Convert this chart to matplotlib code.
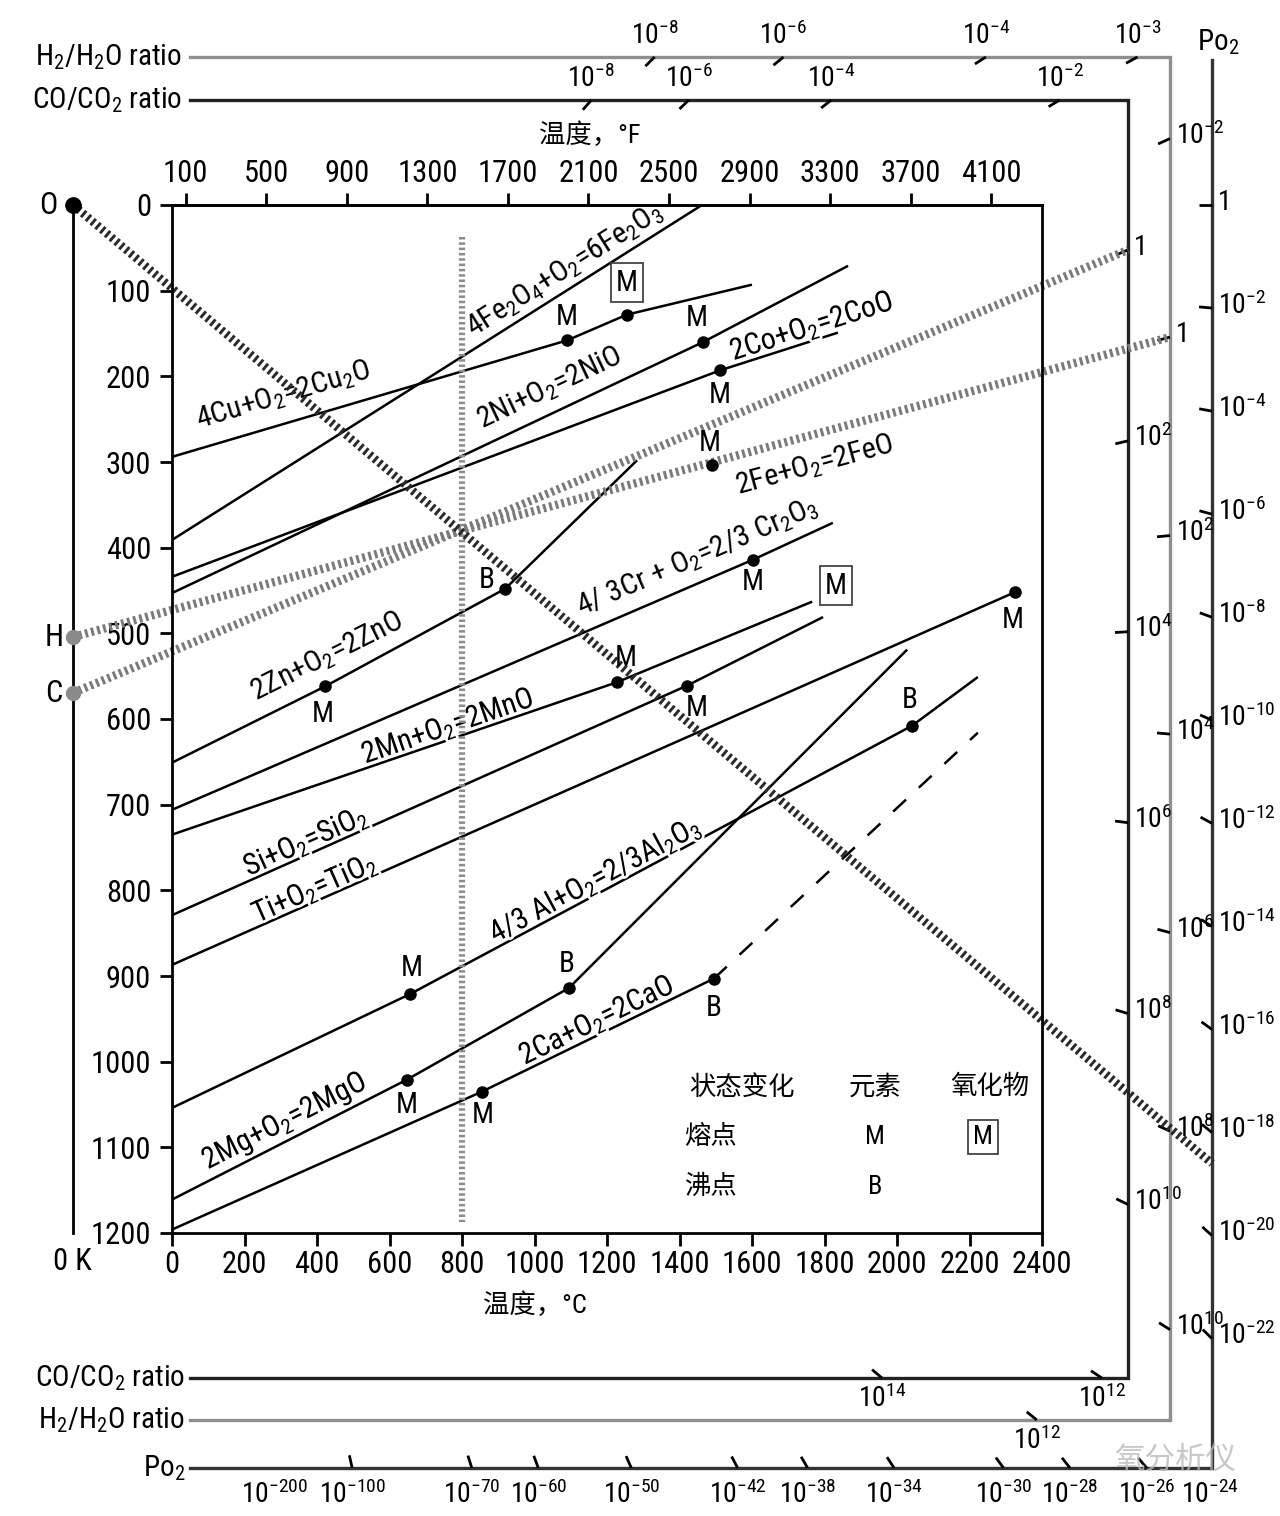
import numpy as np
import matplotlib.pyplot as plt
import matplotlib.patheffects as pe
from matplotlib import font_manager as fm

plt.switch_backend("Agg")

# 字体：优先窄体拉丁字，中文回退
_names = {f.name for f in fm.fontManager.ttflist}
LATIN, K = "Liberation Sans", 0.86
for _n in ["Roboto Condensed", "Liberation Sans Narrow", "Noto Sans Condensed"]:
    if _n in _names:
        LATIN, K = _n, 1.0
        break
plt.rcParams["font.family"] = [LATIN, "Noto Sans CJK SC", "DejaVu Sans"]
plt.rcParams["mathtext.fontset"] = "custom"
for _k in ("rm", "it", "bf", "sf"):
    plt.rcParams["mathtext." + _k] = LATIN
plt.rcParams["mathtext.default"] = "regular"

# ---------------- 数据：温度 °C，-ΔG (kJ) ----------------
cu2o_t = [0, 1090, 1255, 1600];      cu2o_g = [294, 158, 128, 93]
fe2o3_t = [0, 1462];                 fe2o3_g = [391, 0]
nio_t = [0, 1465, 1865];             nio_g = [453, 160, 71]
coo_t = [0, 1512, 1837];             coo_g = [434, 193, 149]
zno_t = [0, 422, 919, 1283];         zno_g = [651, 562, 448, 298]
cr_t = [0, 1603, 1823];              cr_g = [706, 414, 371]
mno_t = [0, 1228, 1766];             mno_g = [735, 557, 463]
sio2_t = [0, 1421, 1796];            sio2_g = [829, 561, 481]
tio2_t = [0, 2325];                  tio2_g = [887, 452]
al_t = [0, 657, 2041, 2223];         al_g = [1054, 921, 608, 551]
mgo_t = [0, 648, 1095, 2028];        mgo_g = [1161, 1021, 914, 519]
cao_t = [0, 855, 1495];              cao_g = [1196, 1035, 903]
cao_ext_t = [1495, 2223];            cao_ext_g = [903, 616]

# 元素熔点 M、沸点 B、氧化物熔点 [M]
melt_t = [1090, 1465, 1512, 1490, 422, 1603, 1228, 1421, 2325, 657, 648, 855]
melt_g = [158, 160, 193, 303, 562, 414, 557, 561, 452, 921, 1021, 1035]
boil_t = [919, 2041, 1095, 1495]
boil_g = [448, 608, 914, 903]
oxm_t = [1255, 1766]
oxm_g = [128, 463]

# 气体参考线 (0 K 截距, 斜率 kJ/K)
CO_V0, CO_B = 569.6, 0.1777
H2_V0, H2_B = 504.3, 0.1157
O_RAY_EXP = -18.6
R10 = 8.314e-3 * np.log(10)
T0K = -273.15

co_right_exp = [0, 2, 4, 6, 8, 10]
h2_right_exp = [-2, 0, 2, 4, 6, 8, 10]
po2_right_exp = [0, -2, -4, -6, -8, -10, -12, -14, -16, -18, -20, -22]
co_top_exp = [-8, -6, -4, -2]
h2_top_exp = [-8, -6, -4, -3]
co_bot_exp = [14, 12]
h2_bot_exp = [12]
po2_bot_exp = [-200, -100, -70, -60, -50, -42, -38, -34, -30, -28, -26, -24]

y_ticks = list(range(0, 1201, 100))
c_ticks = list(range(0, 2401, 200))
f_ticks = list(range(100, 4101, 400))


def px(x, y):
    """图像像素 -> 数据坐标"""
    return (x - 172) / 870 * 2400, (y - 205) / 1028 * 1200


def ray_v(tc, v0, b, k, e):
    return v0 - (tc - T0K) * (b + k * e)


fig = plt.figure(figsize=(12.8, 15.16), dpi=100)
ax = fig.add_axes([172 / 1280, 1 - 1233 / 1516, 870 / 1280, 1028 / 1516])
ax.set_xlim(0, 2400)
ax.set_ylim(1200, 0)
for s in ax.spines.values():
    s.set_linewidth(2)
    s.set_zorder(7)
ax.set_xticks(c_ticks)
ax.set_yticks(y_ticks)
ax.tick_params(direction="out", length=9, width=2, labelsize=22 * K, pad=3)
ax.tick_params(axis="y", pad=6)
sec = ax.secondary_xaxis("top", functions=(lambda c: np.asarray(c) * 9 / 5 + 32,
                                             lambda f: (np.asarray(f) - 32) * 5 / 9))
sec.set_xticks(f_ticks)
sec.tick_params(direction="out", length=9, width=2, labelsize=22 * K, pad=3)
sec.spines["top"].set_linewidth(2)

ax.text(*px(590, 135), "温度，°F", ha="center", va="center", fontsize=19)
ax.text(*px(535, 1305), "温度，°C", ha="center", va="center", fontsize=19)

# 反应线
for t, g in [(cu2o_t, cu2o_g), (fe2o3_t, fe2o3_g), (nio_t, nio_g), (coo_t, coo_g),
             (zno_t, zno_g), (cr_t, cr_g), (mno_t, mno_g), (sio2_t, sio2_g),
             (tio2_t, tio2_g), (al_t, al_g), (mgo_t, mgo_g), (cao_t, cao_g)]:
    ax.plot(t, g, color="k", lw=1.8, zorder=3, solid_capstyle="butt")
ax.plot(cao_ext_t, cao_ext_g, color="k", lw=1.8, ls=(0, (7, 7)), zorder=3)

# 反应式标注
def seg_angle(t, g, i):
    p = ax.transData.transform([(t[i], g[i]), (t[i + 1], g[i + 1])])
    return np.degrees(np.arctan2(p[1, 1] - p[0, 1], p[1, 0] - p[0, 0]))

h_ray_t = [T0K, px(1170, 0)[0]]
h_ray_g = [H2_V0, ray_v(h_ray_t[1], H2_V0, H2_B, -2 * R10, 0)]

labels = [
    ("4Cu+O$_2$=2Cu$_2$O", (283, 395), (cu2o_t, cu2o_g, 0), False),
    ("4Fe$_2$O$_4$+O$_2$=6Fe$_2$O$_3$", (565, 270), (fe2o3_t, fe2o3_g, 0), False),
    ("2Ni+O$_2$=2NiO", (550, 388), (nio_t, nio_g, 0), False),
    ("2Co+O$_2$=2CoO", (812, 327), (coo_t, coo_g, 1), True),
    ("2Fe+O$_2$=2FeO", (815, 465), (h_ray_t, h_ray_g, 0), False),
    ("4/ 3Cr + O$_2$=2/3 Cr$_2$O$_3$", (697, 557), (cr_t, cr_g, 0), False),
    ("2Zn+O$_2$=2ZnO", (327, 657), (zno_t, zno_g, 0), False),
    ("2Mn+O$_2$=2MnO", (448, 727), (mno_t, mno_g, 0), True),
    ("Si+O$_2$=SiO$_2$", (306, 842), (sio2_t, sio2_g, 0), True),
    ("Ti+O$_2$=TiO$_2$", (315, 889), (tio2_t, tio2_g, 0), True),
    ("4/3 Al+O$_2$=2/3Al$_2$O$_3$", (595, 880), (al_t, al_g, 1), True),
    ("2Mg+O$_2$=2MgO", (285, 1122), (mgo_t, mgo_g, 0), True),
    ("2Ca+O$_2$=2CaO", (597, 1021), (cao_t, cao_g, 1), True),
]
halo = [pe.withStroke(linewidth=4, foreground="white")]
for txt, (lx, ly), (t, g, i), on_line in labels:
    ax.text(*px(lx, ly), txt, fontsize=21.5 * K, rotation=seg_angle(t, g, i),
            rotation_mode="anchor", ha="center", va="center", zorder=4,
            path_effects=halo if on_line else None)

# 点 & 字母
melt_off = [(0, -23), (-6, -24), (0, 25), (-2, -22), (-2, 28), (0, 22), (9, -24),
            (10, 22), (-2, 28), (2, -26), (0, 25), (1, 23)]
boil_off = [(-18, -9), (-2, -26), (-2, -24), (0, 29)]
ax.plot(melt_t, melt_g, "o", ms=8, color="k", zorder=6, clip_on=False)
ax.plot(boil_t, boil_g, "o", ms=8, color="k", zorder=6)
ax.plot(oxm_t[:1], oxm_g[:1], "o", ms=8, color="k", zorder=6)
for t, g, (dx, dy) in zip(melt_t, melt_g, melt_off):
    ax.annotate("M", (t, g), xytext=(dx * 0.72, -dy * 0.72), textcoords="offset points",
                ha="center", va="center", fontsize=21 * K, zorder=6, annotation_clip=False)
for t, g, (dx, dy) in zip(boil_t, boil_g, boil_off):
    ax.annotate("B", (t, g), xytext=(dx * 0.72, -dy * 0.72), textcoords="offset points",
                ha="center", va="center", fontsize=21 * K, zorder=6)
box = dict(boxstyle="square,pad=0.18", fc="white", ec="#444", lw=1.3)
for t, g, (dx, dy) in zip(oxm_t, oxm_g, [(0, -32), (24, -16)]):
    ax.annotate("M", (t, g), xytext=(dx * 0.72, -dy * 0.72), textcoords="offset points",
                ha="center", va="center", fontsize=21 * K, bbox=box, zorder=6)

# 图例
for s, x, y in [("状态变化", 742, 1087), ("元素", 875, 1087), ("氧化物", 990, 1087),
                ("熔点", 710, 1137), ("M", 875, 1137), ("沸点", 710, 1187), ("B", 875, 1187)]:
    ax.text(*px(x, y), s, ha="center", va="center", fontsize=19)
ax.text(*px(983, 1137), "M", ha="center", va="center", fontsize=19, bbox=box)

# 800°C 竖虚线
ax.plot([800, 800], [37, 1187], color="#8c8c8c", lw=4.5, ls=(0, (0.4, 0.45)), zorder=5,
        dash_capstyle="butt")

# 左侧 0K 轴
ax.plot([T0K, T0K], [0, 1200], color="k", lw=2, clip_on=False)
ax.plot([T0K], [0], "o", ms=11, color="k", clip_on=False, zorder=8)
ax.plot([T0K, T0K], [H2_V0, CO_V0], "o", ms=10, color="#8a8a8a", clip_on=False, zorder=8)
ax.text(*px(48, 205), "O", ha="center", va="center", fontsize=22 * K)
ax.text(*px(54, 637), "H", ha="center", va="center", fontsize=22 * K)
ax.text(*px(54, 693), "C", ha="center", va="center", fontsize=22 * K)
ax.text(*px(72, 1262), "0 K", ha="center", va="center", fontsize=22 * K)

# 外框
XL = px(190, 0)[0]
X_CO, X_H2, X_PO = px(1128, 0)[0], px(1170, 0)[0], px(1212, 0)[0]
Y_CO_T, Y_CO_B = px(0, 100)[1], px(0, 1378)[1]
Y_H2_T, Y_H2_B = px(0, 57)[1], px(0, 1420)[1]
Y_PO_T, Y_PO_B = px(0, 60)[1], px(0, 1468)[1]
ax.plot([XL, X_H2, X_H2, XL], [Y_H2_T, Y_H2_T, Y_H2_B, Y_H2_B], color="#8f8f8f", lw=2.4,
        clip_on=False, solid_joinstyle="miter")
ax.plot([XL, X_CO, X_CO, XL], [Y_CO_T, Y_CO_T, Y_CO_B, Y_CO_B], color="#222", lw=2.4,
        clip_on=False, solid_joinstyle="miter")
ax.plot([XL, X_PO, X_PO], [Y_PO_B, Y_PO_B, Y_PO_T], color="#333", lw=2.4,
        clip_on=False, solid_joinstyle="miter")

for s, y in [("H$_2$/H$_2$O ratio", 57), ("CO/CO$_2$ ratio", 100)]:
    ax.text(*px(182, y), s, ha="right", va="center", fontsize=21 * K)
for s, y in [("CO/CO$_2$ ratio", 1378), ("H$_2$/H$_2$O ratio", 1420), ("Po$_2$", 1468)]:
    ax.text(*px(185, y), s, ha="right", va="center", fontsize=21 * K)
ax.text(*px(1218, 42), "Po$_2$", ha="center", va="center", fontsize=21 * K)


def tick_seg(P, Q, L=13):
    p = ax.transData.transform(P)
    q = ax.transData.transform(Q)
    u = (q - p) / np.hypot(*(q - p))
    return ax.transData.inverted().transform(np.array([p, p + u * L]))


def lab(e):
    return "1" if e == 0 else "10$^{%d}$" % e


def scale(v0, b, k, exps, where, at, no_tick=(), lab_x=None, gap=5):
    lab_x = lab_x or {}
    for e in exps:
        if where == "v":
            P = (at, ray_v(at, v0, b, k, e))
        else:
            P = ((v0 - at) / (b + k * e) + T0K, at)
        if e not in no_tick:
            sg = tick_seg(P, (T0K, v0))
            ax.plot(sg[:, 0], sg[:, 1], color="k", lw=2, clip_on=False, solid_capstyle="butt")
        if where == "v":
            ax.annotate(lab(e), P, xytext=(4, 2), textcoords="offset points", ha="left",
                        va="center", fontsize=20 * K, annotation_clip=False)
        else:
            xy = (px(lab_x[e], 0)[0], at) if e in lab_x else P
            up = where == "top"
            ax.annotate(lab(e), xy, xytext=(0, gap if up else -gap), textcoords="offset points",
                        ha="center", va="bottom" if up else "top", fontsize=20 * K,
                        annotation_clip=False)


scale(CO_V0, CO_B, -2 * R10, co_right_exp, "v", X_CO)
scale(H2_V0, H2_B, -2 * R10, h2_right_exp, "v", X_H2)
scale(0, 0, R10, po2_right_exp, "v", X_PO)
scale(CO_V0, CO_B, -2 * R10, co_top_exp, "top", Y_CO_T)
scale(H2_V0, H2_B, -2 * R10, h2_top_exp, "top", Y_H2_T)
scale(CO_V0, CO_B, -2 * R10, co_bot_exp, "bot", Y_CO_B)
scale(H2_V0, H2_B, -2 * R10, h2_bot_exp, "bot", Y_H2_B)
scale(0, 0, R10, po2_bot_exp, "bot", Y_PO_B, no_tick=(-200, -24),
      lab_x={-200: 275, -24: 1210}, gap=9)

# 参考射线
dots = dict(lw=6, ls=(0, (0.35, 0.4)), dash_capstyle="butt", clip_on=False, zorder=5)
ax.plot([T0K, X_CO], [CO_V0, ray_v(X_CO, CO_V0, CO_B, -2 * R10, 0)], color="#7a7a7a", **dots)
ax.plot(h_ray_t, h_ray_g, color="#7a7a7a", **dots)
ax.plot([T0K, X_PO], [0, ray_v(X_PO, 0, 0, R10, O_RAY_EXP)], color="#2a2a2a", **dots)

ax.text(*px(1175, 1460), "氧分析仪", ha="center", va="center", fontsize=22,
        color="#bbbbbb", alpha=0.8)

fig.savefig("out.png", dpi=100)
